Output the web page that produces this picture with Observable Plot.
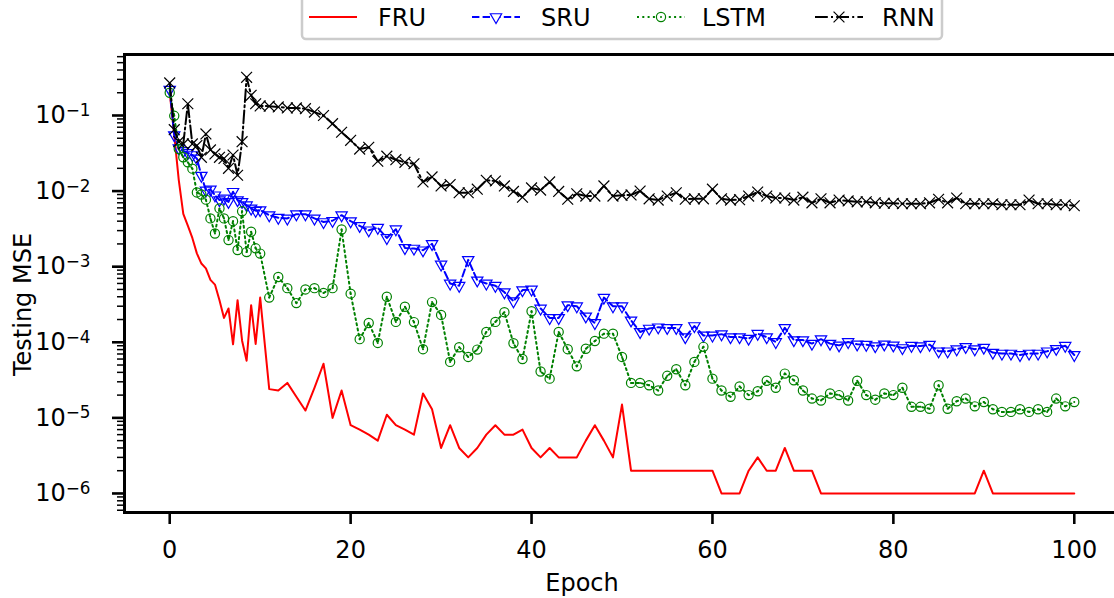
<!DOCTYPE html>
<html><head><meta charset="utf-8">
<script src="https://cdn.jsdelivr.net/npm/d3@7"></script>
<script src="https://cdn.jsdelivr.net/npm/@observablehq/plot@0.6"></script>
<style>
html,body{margin:0;padding:0;background:#fff;}
#wrap{position:relative;width:1114px;height:598px;overflow:hidden;font-family:"DejaVu Sans",sans-serif;}
#wrap svg.legend{position:absolute;left:0;top:0;}
</style></head><body><div id="wrap"></div>
<script>
const epochs = [0,0.5,1,1.5,2,2.5,3,3.5,4,4.5,5,5.5,6,6.5,7,7.5,8,8.5,9,9.5,10,
11,12,13,14,15,16,17,18,19,20,21,22,23,24,25,26,27,28,29,30,
31,32,33,34,35,36,37,38,39,40,41,42,43,44,45,46,47,48,49,50,
51,52,53,54,55,56,57,58,59,60,61,62,63,64,65,66,67,68,69,70,
71,72,73,74,75,76,77,78,79,80,81,82,83,84,85,86,87,88,89,90,
91,92,93,94,95,96,97,98,99,100];

const fru = [0.2,0.055,0.014,5.0e-3,3.5e-3,2.4e-3,1.5e-3,1.1e-3,9.5e-4,6.7e-4,5.8e-4,3.6e-4,2.1e-4,2.8e-4,9.4e-5,3.6e-4,1.05e-4,5.7e-5,3.1e-4,9.5e-5,3.9e-4,
2.4e-5,2.3e-5,2.9e-5,1.9e-5,1.25e-5,2.5e-5,5.2e-5,1e-5,2.3e-5,8e-6,
7e-6,6e-6,5e-6,1.1e-5,8e-6,7e-6,6e-6,2.1e-5,1.3e-5,4e-6,
8e-6,4e-6,3e-6,4e-6,6e-6,8e-6,6e-6,6e-6,7e-6,4e-6,
3e-6,4e-6,3e-6,3e-6,3e-6,5e-6,8e-6,5e-6,3e-6,1.5e-5,
2e-6,2e-6,2e-6,2e-6,2e-6,2e-6,2e-6,2e-6,2e-6,2e-6,
1e-6,1e-6,1e-6,2e-6,3e-6,2e-6,2e-6,4e-6,2e-6,2e-6,
2e-6,1e-6,1e-6,1e-6,1e-6,1e-6,1e-6,1e-6,1e-6,1e-6,
1e-6,1e-6,1e-6,1e-6,1e-6,1e-6,1e-6,1e-6,1e-6,2e-6,
1e-6,1e-6,1e-6,1e-6,1e-6,1e-6,1e-6,1e-6,1e-6,1e-6];

const sru = [0.22,0.055,0.037,0.034,0.032,0.030,0.027,0.016,0.0102,0.0105,0.0088,0.0076,0.0080,0.0072,0.0098,0.0076,0.0072,0.0065,0.0059,0.0055,0.0056,
4.8e-3,4.45e-3,4.35e-3,4.95e-3,4.95e-3,4.35e-3,3.9e-3,4.05e-3,4.8e-3,4.0e-3,
3.47e-3,3.03e-3,3.28e-3,2.4e-3,3.13e-3,1.77e-3,1.74e-3,1.65e-3,2.0e-3,1.07e-3,
6.0e-4,5.6e-4,1.23e-3,6.6e-4,6.0e-4,5.6e-4,4.6e-4,3.5e-4,4.9e-4,5.0e-4,
2.8e-4,2.1e-4,2.1e-4,3.1e-4,3.0e-4,2.2e-4,1.8e-4,3.9e-4,3.0e-4,3.0e-4,
1.95e-4,1.37e-4,1.52e-4,1.58e-4,1.55e-4,1.55e-4,1.17e-4,1.64e-4,1.23e-4,1.23e-4,
1.28e-4,1.17e-4,1.17e-4,1.12e-4,1.3e-4,1.17e-4,1.01e-4,1.55e-4,1.07e-4,1.07e-4,
9.6e-5,1.1e-4,9.6e-5,9.1e-5,1.01e-4,9.4e-5,9.3e-5,8.9e-5,9.4e-5,9.1e-5,
8.4e-5,9.0e-5,8.9e-5,9.3e-5,7.6e-5,7.6e-5,8.1e-5,8.7e-5,8.1e-5,8.5e-5,
7.3e-5,7.1e-5,7.1e-5,6.8e-5,7.1e-5,7.1e-5,7.6e-5,8.2e-5,9.0e-5,6.8e-5];

const lstm = [0.2,0.099,0.036,0.028,0.024,0.0198,9.6e-3,9.0e-3,7.7e-3,4.35e-3,2.75e-3,5.9e-3,4.35e-3,2.25e-3,4.0e-3,1.66e-3,5.4e-3,1.56e-3,2.9e-3,1.75e-3,1.49e-3,
3.9e-4,7.3e-4,5.2e-4,3.3e-4,5.0e-4,5.2e-4,4.5e-4,5.2e-4,3.1e-3,4.4e-4,
1.1e-4,1.8e-4,9.8e-5,4.0e-4,1.86e-4,2.95e-4,1.85e-4,8.1e-5,3.4e-4,2.3e-4,
5.5e-5,8.6e-5,6.4e-5,8.0e-5,1.37e-4,1.86e-4,2.5e-4,9.7e-5,6.0e-5,2.57e-4,
4.1e-5,3.3e-5,1.37e-4,8.1e-5,4.8e-5,8.2e-5,1.04e-4,1.3e-4,1.3e-4,6.4e-5,
2.9e-5,2.9e-5,2.7e-5,2.3e-5,3.6e-5,4.4e-5,2.7e-5,5.5e-5,8.7e-5,3.3e-5,
2.3e-5,1.9e-5,2.6e-5,2.0e-5,2.25e-5,3.1e-5,2.5e-5,3.85e-5,3.15e-5,2.3e-5,
1.8e-5,1.7e-5,2.1e-5,2.0e-5,1.7e-5,3.1e-5,2.0e-5,1.74e-5,2.1e-5,2.0e-5,
2.5e-5,1.4e-5,1.4e-5,1.32e-5,2.7e-5,1.32e-5,1.66e-5,1.8e-5,1.42e-5,1.62e-5,
1.3e-5,1.2e-5,1.2e-5,1.3e-5,1.2e-5,1.3e-5,1.2e-5,1.8e-5,1.42e-5,1.62e-5];

const rnn = [0.27,0.065,0.045,0.042,0.143,0.042,0.040,0.028,0.057,0.035,0.031,0.028,0.027,0.020,0.030,0.0162,0.045,0.32,0.185,0.143,0.134,
0.133,0.13,0.126,0.126,0.123,0.111,0.1,0.078,0.060,0.047,
0.036,0.038,0.0248,0.029,0.026,0.024,0.023,0.0132,0.0154,0.0117,
0.0122,0.0095,0.0095,0.0106,0.0139,0.0136,0.0117,0.0099,0.0083,0.011,
0.0103,0.0132,0.0099,0.0078,0.0092,0.0086,0.0086,0.0117,0.0086,0.0088,
0.0089,0.010,0.0079,0.0076,0.0086,0.0095,0.0078,0.0079,0.0079,0.0106,
0.0079,0.0076,0.0077,0.0086,0.0097,0.0086,0.0081,0.0081,0.0076,0.0083,
0.0070,0.0079,0.0070,0.0076,0.0074,0.0072,0.0072,0.0070,0.0069,0.0069,
0.0068,0.0068,0.0068,0.0070,0.0078,0.0070,0.0081,0.0068,0.0068,0.0068,
0.0068,0.0066,0.0066,0.0066,0.0076,0.0068,0.0068,0.0066,0.0066,0.0064];

const seriesNames = ["FRU","SRU","LSTM","RNN"];
const seriesColors = ["#ff0000","#0000ff","#008000","#000000"];
const xTicks = [0,20,40,60,80,100];
const yTicks = [1e-6,1e-5,1e-4,1e-3,1e-2,1e-1];
const yTickLabels = ["10^\u22126","10^\u22125","10^\u22124","10^\u22123","10^\u22122","10^\u22121"];
const xLabel = "Epoch";
const yLabel = "Testing MSE";

const yDomain = [5.6e-7, 0.641];
const yMinor = [];
for (let k = -7; k <= 0; k++) for (let m = 2; m <= 9; m++) {
  const v = m * Math.pow(10, k);
  if (v >= yDomain[0] && v <= yDomain[1]) yMinor.push(v);
}

const rows = vals => epochs.map((e, i) => ({epoch: e, mse: vals[i]}));
const fruRows = rows(fru), sruRows = rows(sru), lstmRows = rows(lstm), rnnRows = rows(rnn);

const LW = 2;
const dashSRU = "7.4,3.2", dotLSTM = "2,3.3", dashRNN = "12.8,3.2,2,3.2";

const chart = Plot.plot({
  width: 1114, height: 598,
  marginLeft: 124, marginRight: -5, marginTop: 54, marginBottom: 86,
  x: {domain: [-5, 105], label: null},
  y: {type: "log", domain: yDomain, label: null},
  style: {fontFamily: "DejaVu Sans", fontSize: "24px", color: "black", background: "white", overflow: "hidden"},
  marks: [
    Plot.line(fruRows, {x: "epoch", y: "mse", stroke: seriesColors[0], strokeWidth: LW}),
    Plot.line(sruRows, {x: "epoch", y: "mse", stroke: seriesColors[1], strokeWidth: LW, strokeDasharray: dashSRU}),
    Plot.dot(sruRows, {x: "epoch", y: "mse", symbol: "triangle", rotate: 180, r: 4.2, stroke: seriesColors[1], fill: "none", strokeWidth: 1.2}),
    Plot.line(lstmRows, {x: "epoch", y: "mse", stroke: seriesColors[2], strokeWidth: LW, strokeDasharray: dotLSTM}),
    Plot.dot(lstmRows, {x: "epoch", y: "mse", symbol: "circle", r: 4.6, stroke: seriesColors[2], fill: "none", strokeWidth: 1.2}),
    Plot.dot(lstmRows, {x: "epoch", y: "mse", r: 1, fill: seriesColors[2], stroke: "none"}),
    Plot.line(rnnRows, {x: "epoch", y: "mse", stroke: seriesColors[3], strokeWidth: LW, strokeDasharray: dashRNN}),
    Plot.dot(rnnRows, {x: "epoch", y: "mse", symbol: "times", r: 5, stroke: seriesColors[3], strokeWidth: 1.2}),
    Plot.frame({stroke: "black", strokeWidth: 3}),
    Plot.axisY({ticks: yMinor, tickSize: 7, strokeWidth: 1.5, tickFormat: () => "", label: null}),
    Plot.axisY({ticks: yTicks, tickSize: 12, strokeWidth: 2.6, tickPadding: 22,
      tickFormat: d => yTickLabels[yTicks.findIndex(t => Math.abs(t - d) / t < 1e-6)], label: null}),
    Plot.axisX({ticks: xTicks, tickSize: 12, strokeWidth: 2.6, tickPadding: 16, tickFormat: d => String(d), label: null}),
    Plot.text([xLabel], {frameAnchor: "bottom", lineAnchor: "middle", textAnchor: "middle", dx: -40, dy: 71, text: d => d}),
    Plot.text([yLabel], {frameAnchor: "left", lineAnchor: "middle", textAnchor: "middle", rotate: -90, dx: -101, dy: 21, text: d => d})
  ]
});
document.getElementById("wrap").appendChild(chart);

// mathtext-like superscripts for the log tick labels
d3.select(chart).selectAll("text").each(function() {
  const s = this.textContent;
  const m = /^(\d+)\^(.+)$/.exec(s);
  if (!m) return;
  const t = d3.select(this);
  t.text(null);
  t.append("tspan").text(m[1]);
  t.append("tspan").attr("font-size", "70%").attr("dy", "-0.42em").text(m[2]);
});

// legend (matplotlib-style box above the axes)
const lg = d3.select("#wrap").append("svg").attr("class", "legend")
  .attr("width", 1114).attr("height", 46)
  .style("font-family", "DejaVu Sans").style("font-size", "24px");
lg.append("rect").attr("x", 302).attr("y", -8).attr("width", 640).attr("height", 47)
  .attr("rx", 4).attr("fill", "white").attr("stroke", "#cccccc").attr("stroke-width", 2.5);
const items = [
  {x0: 309, dash: null, sym: null, tx: 378},
  {x0: 472, dash: dashSRU, sym: "triangle", tx: 541},
  {x0: 637, dash: dotLSTM, sym: "circle", tx: 702},
  {x0: 815, dash: dashRNN, sym: "times", tx: 882}
];
const ly = 17;
items.forEach((it, i) => {
  const c = seriesColors[i];
  lg.append("line").attr("x1", it.x0).attr("x2", it.x0 + 48).attr("y1", ly).attr("y2", ly)
    .attr("stroke", c).attr("stroke-width", LW).attr("stroke-dasharray", it.dash);
  const cx = it.x0 + 24;
  if (it.sym === "triangle") {
    lg.append("path").attr("d", d3.symbol(d3.symbolTriangle, Math.PI * 4.2 * 4.2)())
      .attr("transform", `translate(${cx},${ly}) rotate(180)`).attr("fill", "white").attr("stroke", c).attr("stroke-width", 1.2);
  } else if (it.sym === "circle") {
    lg.append("circle").attr("cx", cx).attr("cy", ly).attr("r", 4.6).attr("fill", "white").attr("stroke", c).attr("stroke-width", 1.2);
    lg.append("circle").attr("cx", cx).attr("cy", ly).attr("r", 1).attr("fill", c);
  } else if (it.sym === "times") {
    lg.append("path").attr("d", d3.symbol(d3.symbolTimes, Math.PI * 25)())
      .attr("transform", `translate(${cx},${ly})`).attr("fill", "none").attr("stroke", c).attr("stroke-width", 1.2);
  }
  lg.append("text").attr("x", it.tx).attr("y", ly).attr("dy", "0.36em").attr("fill", "black").text(seriesNames[i]);
});
</script></body></html>
